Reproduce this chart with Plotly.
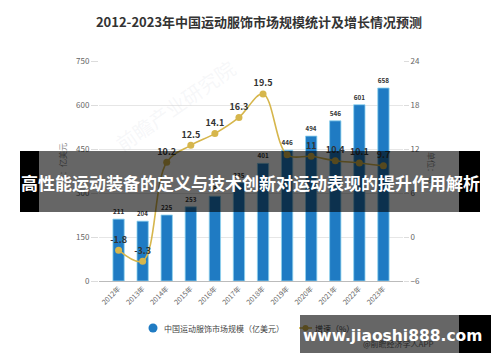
import plotly.graph_objects as go

years = ["2012年", "2013年", "2014年", "2015年", "2016年", "2017年",
         "2018年", "2019年", "2020年", "2021年", "2022年", "2023年"]
market_size = [211, 204, 225, 253, 289, 335, 401, 446, 494, 546, 601, 658]
growth = [-1.8, -3.3, 10.2, 12.5, 14.1, 16.3, 19.5, 11.2, 11, 10.4, 10.1, 9.7]
growth_labels = ["-1.8", "-3.3", "10.2", "12.5", "14.1", "16.3", "19.5", "", "11", "10.4", "10.1", "9.7"]

title_text = "2012-2023年中国运动服饰市场规模统计及增长情况预测"
bar_name = "中国运动服饰市场规模（亿美元）"
line_name = "增速（%）"
left_title = "单位：亿美元"
right_title = "单位：%"
source_text = "@前瞻经济学人APP"
banner_text = "高性能运动装备的定义与技术创新对运动表现的提升作用解析"
watermark_text = "www.jiaoshi888.com"

W, H = 500, 362
L, R, T, B = 99, 97, 61, 81
PW, PH = W - L - R, H - T - B

def px(x):
    return (x - L) / PW

def py(y):
    return (H - B - y) / PH

CJK = "Noto Sans CJK SC"
BAR_C = "#1f7bc3"
LINE_C = "#d6b64c"

fig = go.Figure()
fig.add_trace(go.Bar(
    x=years, y=market_size, name=bar_name, width=0.47,
    marker=dict(color=BAR_C, line=dict(color="#8fd3ef", width=0.8)),
    texttemplate="<b>%{y}</b>", textposition="outside",
    textfont=dict(size=9, color="#333", family=CJK),
    cliponaxis=False, showlegend=False, hoverinfo="skip",
))
fig.add_trace(go.Scatter(
    x=years, y=growth, name=line_name, yaxis="y2", mode="lines+markers+text",
    line=dict(color=LINE_C, width=1.6, shape="spline", smoothing=1.0),
    marker=dict(color=LINE_C, size=7),
    text=[f"<b>{t}</b>" if t else "" for t in growth_labels],
    textposition="top center",
    textfont=dict(size=9, color="#333", family=CJK),
    cliponaxis=False, showlegend=False, hoverinfo="skip",
))

def ann(text, x, y, size, color, family=CJK, xanchor="center", **kw):
    d = dict(text=text, x=px(x), y=py(y), xref="paper", yref="paper", showarrow=False,
             xanchor=xanchor, yanchor="middle", font=dict(size=size, color=color, family=family))
    d.update(kw)
    return d

annotations = [
    ann("前瞻产业研究院", 175, 105, 20, "rgba(200,205,215,0.16)", textangle=-35),
    ann(left_title, 62, 167, 8, "#888", textangle=-90),
    ann(right_title, 432, 168, 8, "#888", textangle=90),
    # legend
    ann(bar_name, 162, 328, 8, "#444", xanchor="left"),
    ann(line_name, 313, 328, 8, "#444", xanchor="left"),
    ann(source_text, 398, 343, 8, "#666"),
    # banner overlay
    ann(" ", 249, 181.5, 10, "white", width=420, height=61, bgcolor="rgba(0,0,0,0.6)",
        borderpad=0, borderwidth=0),
    ann("<b>" + banner_text + "</b>", 250, 182, 17, "white"),
    # watermark overlay
    ann(" ", 379.5, 334, 10, "white", width=159, height=38, bgcolor="rgba(0,0,0,0.6)",
        borderpad=0, borderwidth=0),
    ann("<b>" + watermark_text + "</b>", 392, 336, 15.5, "white", family="DejaVu Sans"),
]

shapes = [
    dict(type="rect", xref="paper", yref="paper", x0=px(20), x1=px(39), y0=py(212), y1=py(151),
         fillcolor="black", line=dict(width=0), layer="above"),
    dict(type="rect", xref="paper", yref="paper", x0=px(459), x1=px(480), y0=py(212), y1=py(151),
         fillcolor="black", line=dict(width=0), layer="above"),
    dict(type="rect", xref="paper", yref="paper", x0=px(459), x1=px(491), y0=py(353), y1=py(315),
         fillcolor="black", line=dict(width=0), layer="above"),
    # legend markers
    dict(type="circle", xref="paper", yref="paper", xsizemode="pixel", ysizemode="pixel",
         xanchor=px(153), yanchor=py(328), x0=-4.5, x1=4.5, y0=-4.5, y1=4.5,
         fillcolor=BAR_C, line=dict(width=0)),
    dict(type="line", xref="paper", yref="paper", x0=px(299), x1=px(312), y0=py(328), y1=py(328),
         line=dict(color=LINE_C, width=1.6)),
    dict(type="circle", xref="paper", yref="paper", xsizemode="pixel", ysizemode="pixel",
         xanchor=px(305.5), yanchor=py(328), x0=-3, x1=3, y0=-3, y1=3,
         fillcolor=LINE_C, line=dict(width=0)),
]

fig.update_layout(
    width=W, height=H, autosize=False,
    margin=dict(l=L, r=R, t=T, b=B, pad=0),
    paper_bgcolor="white", plot_bgcolor="white",
    font=dict(family=CJK, color="#555"),
    hovermode=False,
    title=dict(text="<b>" + title_text + "</b>", x=0.518, xanchor="center", y=1 - 22 / H,
               yanchor="middle", font=dict(size=13, color="#333", family=CJK)),
    xaxis=dict(type="category", tickangle=-45, tickfont=dict(size=7, color="#666"),
               showline=True, linecolor="#bbb", linewidth=1, ticks="", showgrid=False),
    yaxis=dict(range=[0, 750], dtick=150, gridcolor="#e6e6e6", zeroline=False,
               tickfont=dict(size=8, color="#666"), ticks="outside", ticklen=7,
               tickcolor="#dcdcdc", showline=False),
    yaxis2=dict(range=[-6, 24], dtick=6, overlaying="y", side="right", showgrid=False,
                zeroline=False, tickfont=dict(size=8, color="#666"), ticks="outside",
                ticklen=5, tickcolor="#dcdcdc", showline=False),
    annotations=annotations, shapes=shapes, showlegend=False,
)

fig.write_html("out.html", config={"displayModeBar": False},
               post_script="document.body.style.margin='0px';document.body.style.overflow='hidden';")
